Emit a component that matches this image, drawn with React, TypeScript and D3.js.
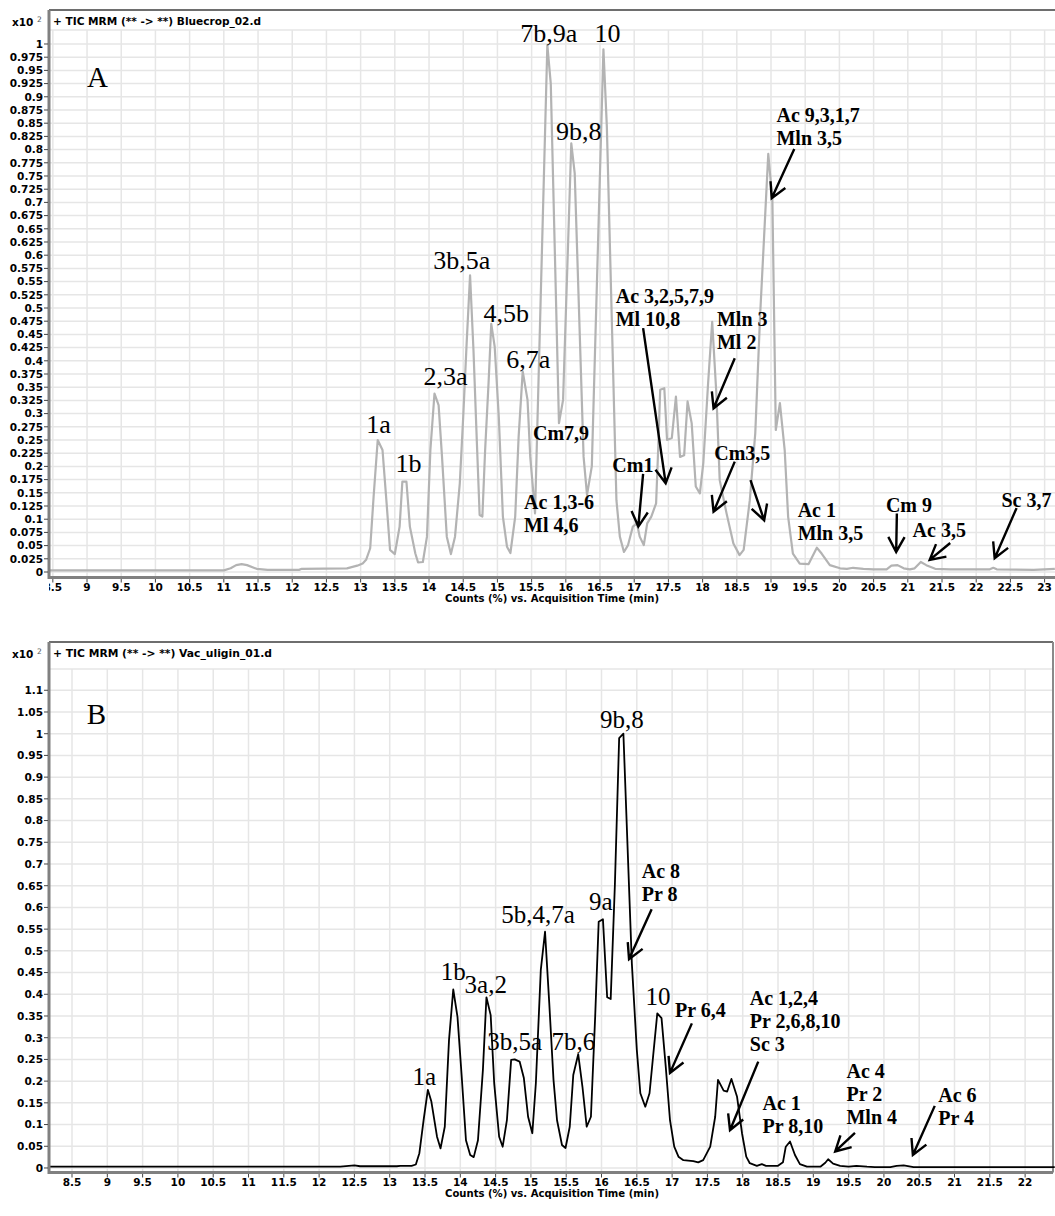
import { useEffect, useRef } from 'react';
import * as d3 from 'd3';

// ---- panel A : TIC MRM Bluecrop_02.d (x10^2 counts) ----
const timeA = [8.44, 9.0, 10.0, 11.0, 11.1, 11.18, 11.26, 11.34, 11.48, 11.64, 12.1, 12.14, 12.8, 12.95,
  13.03, 13.08, 13.14, 13.19, 13.25, 13.32, 13.38, 13.43, 13.5, 13.57, 13.61, 13.67, 13.72, 13.8, 13.84,
  13.91, 13.97, 14.02, 14.08, 14.14, 14.19, 14.26, 14.32, 14.38, 14.45, 14.5, 14.55, 14.6, 14.65, 14.7,
  14.74, 14.78, 14.82, 14.87, 14.91, 14.96, 15.02, 15.08, 15.14, 15.19, 15.26, 15.31, 15.37, 15.44, 15.48,
  15.53, 15.55, 15.73, 15.78, 15.9, 15.96, 16.08, 16.13, 16.26, 16.31, 16.38, 16.55, 16.6, 16.74, 16.79,
  16.85, 16.91, 16.98, 17.04, 17.08, 17.14, 17.19, 17.25, 17.32, 17.35, 17.38, 17.44, 17.48, 17.55, 17.61,
  17.67, 17.73, 17.78, 17.84, 17.9, 17.96, 18.01, 18.08, 18.14, 18.2, 18.25, 18.35, 18.45, 18.54, 18.6,
  18.69, 18.77, 18.84, 18.96, 19.02, 19.07, 19.13, 19.2, 19.25, 19.32, 19.42, 19.55, 19.67, 19.74, 19.86,
  20.01, 20.11, 20.2, 20.35, 20.5, 20.69, 20.76, 20.85, 20.94, 21.03, 21.1, 21.19, 21.27, 21.4, 21.62,
  22.2, 22.25, 22.3, 22.84, 23.15];
const countA = [0.003, 0.003, 0.003, 0.003, 0.007, 0.013, 0.015, 0.013, 0.006, 0.004, 0.004, 0.006, 0.007, 0.012,
  0.016, 0.023, 0.045, 0.143, 0.25, 0.231, 0.13, 0.042, 0.034, 0.086, 0.171, 0.171, 0.086, 0.035, 0.018,
  0.019, 0.067, 0.231, 0.338, 0.316, 0.218, 0.067, 0.034, 0.067, 0.168, 0.294, 0.433, 0.562, 0.42, 0.244,
  0.108, 0.105, 0.23, 0.357, 0.47, 0.427, 0.294, 0.105, 0.048, 0.036, 0.105, 0.256, 0.38, 0.326, 0.218,
  0.143, 0.111, 0.998, 0.925, 0.282, 0.326, 0.812, 0.755, 0.218, 0.146, 0.2, 0.99, 0.843, 0.136, 0.067,
  0.038, 0.051, 0.086, 0.092, 0.067, 0.051, 0.092, 0.105, 0.13, 0.231, 0.345, 0.348, 0.25, 0.254, 0.332,
  0.218, 0.221, 0.323, 0.282, 0.162, 0.149, 0.206, 0.357, 0.474, 0.34, 0.174, 0.111, 0.054, 0.032, 0.042,
  0.136, 0.263, 0.484, 0.792, 0.705, 0.269, 0.32, 0.231, 0.105, 0.035, 0.016, 0.015, 0.046, 0.035, 0.013,
  0.007, 0.006, 0.008, 0.006, 0.005, 0.005, 0.012, 0.013, 0.007, 0.005, 0.007, 0.019, 0.013, 0.006, 0.005,
  0.005, 0.008, 0.005, 0.004, 0.006];

// ---- panel B : TIC MRM Vac_uligin_01.d ----
const timeB = [8.17, 12.3, 12.42, 12.5, 12.58, 13.1, 13.15, 13.31, 13.37, 13.42, 13.48, 13.54, 13.59, 13.67,
  13.72, 13.78, 13.84, 13.9, 13.96, 14.02, 14.08, 14.14, 14.19, 14.25, 14.32, 14.37, 14.43, 14.48, 14.55,
  14.6, 14.66, 14.72, 14.77, 14.84, 14.9, 14.96, 15.02, 15.07, 15.14, 15.2, 15.26, 15.32, 15.37, 15.44,
  15.49, 15.55, 15.6, 15.67, 15.73, 15.79, 15.85, 15.91, 15.96, 16.02, 16.08, 16.13, 16.19, 16.25, 16.31,
  16.43, 16.5, 16.55, 16.62, 16.68, 16.73, 16.79, 16.85, 16.91, 16.97, 17.03, 17.09, 17.16, 17.3, 17.37,
  17.44, 17.54, 17.61, 17.65, 17.73, 17.78, 17.84, 17.92, 17.99, 18.05, 18.1, 18.2, 18.27, 18.33, 18.5,
  18.57, 18.61, 18.67, 18.74, 18.81, 18.91, 19.1, 19.17, 19.21, 19.28, 19.38, 19.5, 19.61, 19.76, 19.87,
  20.09, 20.18, 20.28, 20.42, 22.42];
const countB = [0.003, 0.003, 0.005, 0.006, 0.004, 0.004, 0.005, 0.005, 0.008, 0.034, 0.11, 0.18, 0.153, 0.072,
  0.045, 0.095, 0.295, 0.411, 0.348, 0.21, 0.064, 0.03, 0.025, 0.064, 0.226, 0.393, 0.352, 0.195, 0.072,
  0.049, 0.11, 0.249, 0.25, 0.245, 0.207, 0.118, 0.08, 0.195, 0.456, 0.544, 0.379, 0.203, 0.11, 0.053,
  0.046, 0.095, 0.214, 0.262, 0.187, 0.095, 0.118, 0.348, 0.567, 0.573, 0.393, 0.389, 0.655, 0.99, 1.0,
  0.47, 0.272, 0.172, 0.141, 0.172, 0.256, 0.356, 0.345, 0.233, 0.11, 0.049, 0.026, 0.018, 0.016, 0.013,
  0.018, 0.049, 0.118, 0.203, 0.178, 0.176, 0.205, 0.164, 0.08, 0.026, 0.011, 0.005, 0.009, 0.005, 0.005,
  0.013, 0.049, 0.061, 0.03, 0.009, 0.003, 0.003, 0.012, 0.02, 0.01, 0.005, 0.003, 0.005, 0.003, 0.002,
  0.002, 0.005, 0.006, 0.002, 0.002];

// tick values
const xTicksA = d3.range(8.5, 23.01, 0.5);
const yTicksA = d3.range(0, 41).map(i => i * 0.025);
const xTicksB = d3.range(8.5, 22.01, 0.5);
const yTicksB = d3.range(0, 23).map(i => i * 0.05);

// peak labels (compound numbers), placed in data units
const peakLabelsA = [
  { text: '7b,9a', t: 15.75, v: 1.004 },
  { text: '10', t: 16.61, v: 1.004 },
  { text: '9b,8', t: 16.19, v: 0.818 },
  { text: '3b,5a', t: 14.48, v: 0.574 },
  { text: '4,5b', t: 15.13, v: 0.474 },
  { text: '6,7a', t: 15.45, v: 0.386 },
  { text: '2,3a', t: 14.24, v: 0.354 },
  { text: '1a', t: 13.26, v: 0.263 },
  { text: '1b', t: 13.7, v: 0.189 },
];
const notesA = [
  { lines: ['Cm7,9'], t: 15.52, v: 0.25 },
  { lines: ['Ac 3,2,5,7,9', 'Ml 10,8'], t: 16.73, v: 0.509 },
  { lines: ['Ac 1,3-6', 'Ml 4,6'], t: 15.39, v: 0.119 },
  { lines: ['Cm1'], t: 16.68, v: 0.19 },
  { lines: ['Mln 3', 'Ml 2'], t: 18.21, v: 0.465 },
  { lines: ['Cm3,5'], t: 18.17, v: 0.212 },
  { lines: ['Ac 1', 'Mln 3,5'], t: 19.39, v: 0.105 },
  { lines: ['Cm 9'], t: 20.68, v: 0.114 },
  { lines: ['Ac 3,5'], t: 21.07, v: 0.067 },
  { lines: ['Sc 3,7'], t: 22.37, v: 0.124 },
  { lines: ['Ac 9,3,1,7', 'Mln 3,5'], t: 19.08, v: 0.853 },
];
const arrowsA = [
  { from: [17.13, 0.462], to: [17.46, 0.168] },
  { from: [17.13, 0.186], to: [17.06, 0.086] },
  { from: [18.47, 0.405], to: [18.16, 0.31] },
  { from: [18.47, 0.209], to: [18.16, 0.114] },
  { from: [18.7, 0.174], to: [18.9, 0.098] },
  { from: [19.34, 0.801], to: [19.01, 0.708] },
  { from: [20.84, 0.111], to: [20.83, 0.038] },
  { from: [21.62, 0.055], to: [21.32, 0.023] },
  { from: [22.59, 0.121], to: [22.27, 0.026] },
];

const peakLabelsB = [
  { text: '9b,8', t: 16.29, v: 1.013 },
  { text: '9a', t: 15.99, v: 0.594 },
  { text: '5b,4,7a', t: 15.1, v: 0.563 },
  { text: '1b', t: 13.9, v: 0.433 },
  { text: '3a,2', t: 14.36, v: 0.402 },
  { text: '3b,5a', t: 14.77, v: 0.272 },
  { text: '7b,6', t: 15.6, v: 0.272 },
  { text: '1a', t: 13.49, v: 0.191 },
  { text: '10', t: 16.8, v: 0.375 },
];
const notesB = [
  { lines: ['Ac 8', 'Pr 8'], t: 16.57, v: 0.667 },
  { lines: ['Pr 6,4'], t: 17.04, v: 0.348 },
  { lines: ['Ac 1,2,4', 'Pr 2,6,8,10', 'Sc 3'], t: 18.1, v: 0.375 },
  { lines: ['Ac 1', 'Pr 8,10'], t: 18.28, v: 0.134 },
  { lines: ['Ac 4', 'Pr 2', 'Mln 4'], t: 19.47, v: 0.207 },
  { lines: ['Ac 6', 'Pr 4'], t: 20.77, v: 0.153 },
];
const arrowsB = [
  { from: [16.71, 0.596], to: [16.39, 0.481] },
  { from: [17.28, 0.333], to: [16.97, 0.219] },
  { from: [18.22, 0.245], to: [17.82, 0.087] },
  { from: [19.59, 0.081], to: [19.31, 0.038] },
  { from: [20.72, 0.143], to: [20.41, 0.03] },
];

const SANS = 'DejaVu Sans, Verdana, sans-serif';
const SERIF = 'Liberation Serif, Times New Roman, serif';

const fmt = d => String(Math.round(d * 1000) / 1000);

function drawPanel(svg, p) {
  const x = d3.scaleLinear().domain(p.xDomain).range([p.left, p.right]);
  const y = d3.scaleLinear().domain(p.yDomain).range([p.bottom, p.plotTop]);
  const g = svg.append('g');

  const clipId = 'clip-' + p.id;
  g.append('clipPath').attr('id', clipId)
    .append('rect').attr('x', p.left).attr('y', p.frameTop).attr('width', p.right - p.left).attr('height', p.bottom - p.frameTop + 40);

  // grid
  g.selectAll('.vgrid').data(p.xTicks).enter().append('line')
    .attr('x1', d => x(d)).attr('x2', d => x(d))
    .attr('y1', p.plotTop).attr('y2', p.bottom)
    .attr('stroke', '#e6e6e6').attr('stroke-width', 1.5);
  g.selectAll('.hgrid').data(p.yTicks).enter().append('line')
    .attr('x1', p.left).attr('x2', p.right)
    .attr('y1', d => y(d)).attr('y2', d => y(d))
    .attr('stroke', '#e6e6e6').attr('stroke-width', 1.5);
  g.append('line').attr('x1', p.left).attr('x2', p.right)
    .attr('y1', p.plotTop).attr('y2', p.plotTop)
    .attr('stroke', '#e6e6e6').attr('stroke-width', 1.5);

  // frame
  g.append('line').attr('x1', p.left).attr('x2', p.frameRight)
    .attr('y1', p.frameTop).attr('y2', p.frameTop)
    .attr('stroke', '#6e6e6e').attr('stroke-width', 2);
  if (p.rightBorder) {
    g.append('line').attr('x1', p.right).attr('x2', p.right)
      .attr('y1', p.frameTop).attr('y2', p.bottom)
      .attr('stroke', '#8a8a8a').attr('stroke-width', 2);
  }

  // title + multiplier
  g.append('text').attr('x', p.left + 4).attr('y', p.frameTop + 14.5)
    .attr('font-family', SANS).attr('font-weight', 'bold').attr('font-size', 10)
    .attr('textLength', p.titleWidth).attr('lengthAdjust', 'spacingAndGlyphs')
    .text(p.title);
  g.append('text').attr('x', 12).attr('y', p.frameTop + 16)
    .attr('font-family', SANS).attr('font-weight', 'bold').attr('font-size', 10.5)
    .text('x10');
  g.append('text').attr('x', 37).attr('y', p.frameTop + 12)
    .attr('font-family', SANS).attr('font-size', 7.5).attr('fill', '#555')
    .text('2');

  // trace
  const pts = p.time.map((t, i) => [t, p.count[i]]);
  const line = d3.line().x(d => x(d[0])).y(d => y(d[1]));
  g.append('path').attr('d', line(pts))
    .attr('fill', 'none').attr('stroke', p.color).attr('stroke-width', p.lineWidth)
    .attr('stroke-linejoin', 'round');

  // axes lines
  g.append('line').attr('x1', p.left).attr('x2', p.left)
    .attr('y1', p.frameTop).attr('y2', p.bottom + 1.5)
    .attr('stroke', '#808080').attr('stroke-width', 3);
  g.append('line').attr('x1', p.left).attr('x2', p.right)
    .attr('y1', p.bottom).attr('y2', p.bottom)
    .attr('stroke', '#808080').attr('stroke-width', 3);

  // y ticks
  g.selectAll('.ytick').data(p.yTicks).enter().append('line')
    .attr('x1', p.left - 5).attr('x2', p.left - 1)
    .attr('y1', d => y(d)).attr('y2', d => y(d))
    .attr('stroke', '#444').attr('stroke-width', 1);
  g.selectAll('.ylab').data(p.yTicks).enter().append('text')
    .attr('x', p.left - 6).attr('y', d => y(d) + 3.8)
    .attr('text-anchor', 'end')
    .attr('font-family', SANS).attr('font-weight', 'bold').attr('font-size', 10.5)
    .text(fmt);

  // x ticks
  g.selectAll('.xtick').data(p.xTicks).enter().append('line')
    .attr('x1', d => x(d)).attr('x2', d => x(d))
    .attr('y1', p.bottom + 1.5).attr('y2', p.bottom + 5)
    .attr('stroke', '#444').attr('stroke-width', 1);
  g.append('g').attr('clip-path', `url(#${clipId})`)
    .selectAll('.xlab').data(p.xTicks).enter().append('text')
    .attr('x', d => x(d)).attr('y', p.bottom + 13)
    .attr('text-anchor', 'middle')
    .attr('font-family', SANS).attr('font-weight', 'bold').attr('font-size', 10.5)
    .text(fmt);
  g.append('text').attr('x', 445).attr('y', p.bottom + 24.5)
    .attr('font-family', SANS).attr('font-weight', 'bold').attr('font-size', 10)
    .attr('textLength', 214).attr('lengthAdjust', 'spacingAndGlyphs')
    .text('Counts (%) vs. Acquisition Time (min)');

  // panel letter
  g.append('text').attr('x', x(p.letterPos[0])).attr('y', y(p.letterPos[1]))
    .attr('font-family', SERIF).attr('font-size', 29)
    .text(p.letter);

  // peak labels
  g.selectAll('.peak').data(p.peaks).enter().append('text')
    .attr('x', d => x(d.t)).attr('y', d => y(d.v))
    .attr('text-anchor', 'middle')
    .attr('font-family', SERIF).attr('font-size', p.peakSize)
    .text(d => d.text);

  // bold notes
  const notes = g.selectAll('.note').data(p.notes).enter().append('text')
    .attr('x', d => x(d.t)).attr('y', d => y(d.v))
    .attr('font-family', SERIF).attr('font-weight', 'bold').attr('font-size', 20);
  notes.selectAll('tspan').data(d => d.lines.map(l => ({ l, x: x(d.t) }))).enter().append('tspan')
    .attr('x', d => d.x).attr('dy', (_, i) => i === 0 ? 0 : 23)
    .text(d => d.l);

  // arrows
  g.selectAll('.arrow').data(p.arrows).enter().append('path')
    .attr('d', a => {
      const x1 = x(a.from[0]), y1 = y(a.from[1]);
      const x2 = x(a.to[0]), y2 = y(a.to[1]);
      const ang = Math.atan2(y1 - y2, x1 - x2);
      const len = 17, spread = 0.5;
      const ax = x2 + len * Math.cos(ang + spread), ay = y2 + len * Math.sin(ang + spread);
      const bx = x2 + len * Math.cos(ang - spread), by = y2 + len * Math.sin(ang - spread);
      return `M${x1},${y1}L${x2},${y2}M${ax},${ay}L${x2},${y2}L${bx},${by}`;
    })
    .attr('fill', 'none').attr('stroke', '#000').attr('stroke-width', 2.4);
}

const App = () => {
  const svgRef = useRef(null);

  useEffect(() => {
    const svg = d3.select(svgRef.current);
    svg.selectAll('*').remove();

    drawPanel(svg, {
      id: 'a',
      xDomain: [8.444, 23.152], yDomain: [-0.0104, 1.0265],
      left: 49, right: 1055, frameRight: 1055, rightBorder: false,
      frameTop: 10, plotTop: 30, bottom: 577.5,
      title: '+ TIC MRM (** -> **) Bluecrop_02.d', titleWidth: 208,
      time: timeA, count: countA, color: '#b3b3b3', lineWidth: 2.2,
      xTicks: xTicksA, yTicks: yTicksA,
      letter: 'A', letterPos: [9.0, 0.919],
      peaks: peakLabelsA, peakSize: 26, notes: notesA, arrows: arrowsA,
    });

    drawPanel(svg, {
      id: 'b',
      xDomain: [8.174, 22.395], yDomain: [-0.0104, 1.149],
      left: 49, right: 1053, frameRight: 1053, rightBorder: true,
      frameTop: 642, plotTop: 669, bottom: 1172.5,
      title: '+ TIC MRM (** -> **) Vac_uligin_01.d', titleWidth: 219,
      time: timeB, count: countB, color: '#000', lineWidth: 1.8,
      xTicks: xTicksB, yTicks: yTicksB,
      letter: 'B', letterPos: [8.71, 1.022],
      peaks: peakLabelsB, peakSize: 25, notes: notesB, arrows: arrowsB,
    });
  }, []);

  return (
    <div>
      <svg ref={svgRef} width={1055} height={1216}
        style={{ position: 'absolute', left: 0, top: 0, background: '#fff' }} />
    </div>
  );
};

export default App;
